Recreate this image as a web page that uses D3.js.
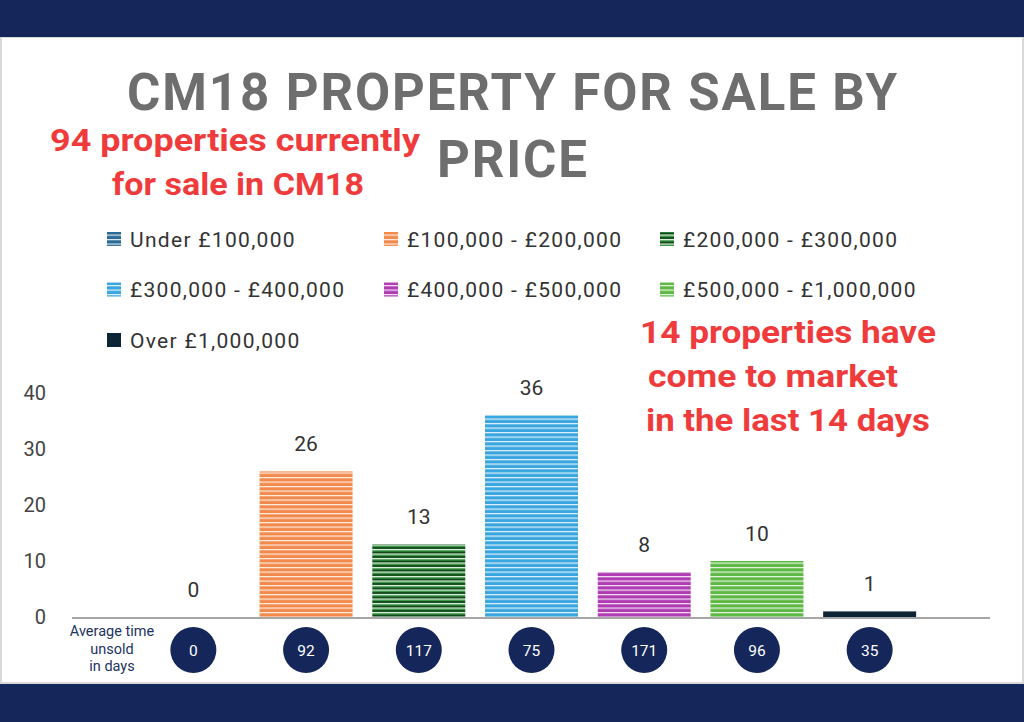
<!DOCTYPE html>
<html lang="en">
<head>
    <meta charset="UTF-8">
    <script src="https://d3js.org/d3.v7.min.js"></script>
    <style>
        body { margin: 0; background: #fff; font-family: Roboto, Arial, sans-serif; }
        svg { display: block; }
    </style>
</head>
<body>
    <div id="chart"></div>
    <script>
        // Data
        const categories = ["Under £100,000", "£100,000 - £200,000", "£200,000 - £300,000",
            "£300,000 - £400,000", "£400,000 - £500,000", "£500,000 - £1,000,000", "Over £1,000,000"];
        const counts = [0, 26, 13, 36, 8, 10, 1];
        const daysUnsold = [0, 92, 117, 75, 171, 96, 35];
        const yTicks = [0, 10, 20, 30, 40];
        const colours = ["#2a6a94", "#f28a4c", "#2f8f3a", "#3aa6df", "#b03cb3", "#5db844", "#0e2536"];
        const titleLines = ["CM18 PROPERTY FOR SALE BY", "PRICE"];
        const leftNote = ["94 properties currently", "for sale in CM18"];
        const rightNote = ["14 properties have", "come to market", "in the last 14 days"];

        const width = 1024, height = 722;
        const navy = "#14265a";

        const svg = d3.select("#chart").append("svg")
            .attr("width", width)
            .attr("height", height);

        // stripe patterns
        const defs = svg.append("defs");
        colours.forEach((c, i) => {
            const p = defs.append("pattern")
                .attr("id", "stripe" + i)
                .attr("patternUnits", "userSpaceOnUse")
                .attr("width", 8).attr("height", 4.5);
            p.append("rect").attr("width", 8).attr("height", 4.5).attr("fill", c);
            if (i === 2) {
                p.append("rect").attr("y", 2.8).attr("width", 8).attr("height", 1.4).attr("fill", "#0c3a14");
            }
            if (i !== 6) {
                p.append("rect").attr("y", 0).attr("width", 8).attr("height", 1.2).attr("fill", "#fff").attr("opacity", 0.85);
            }
        });

        // frame bands
        svg.append("rect").attr("x", 0).attr("y", 0).attr("width", width).attr("height", height).attr("fill", "#fff");
        svg.append("rect").attr("x", 1).attr("y", 37).attr("width", width - 2).attr("height", 646)
            .attr("fill", "none").attr("stroke", "#d8d8d8").attr("stroke-width", 2);
        svg.append("rect").attr("x", 0).attr("y", 0).attr("width", width).attr("height", 37).attr("fill", navy);
        svg.append("rect").attr("x", 0).attr("y", 684).attr("width", width).attr("height", 38).attr("fill", navy);

        // title
        svg.selectAll("text.title")
            .data(titleLines)
            .enter().append("text")
            .attr("class", "title")
            .attr("x", 512)
            .attr("y", (d, i) => 110 + i * 67)
            .attr("text-anchor", "middle")
            .attr("font-size", 51)
            .attr("font-weight", 700)
            .attr("fill", "#6e6e6e")
            .attr("textLength", (d, i) => i === 0 ? 770 : 150)
            .attr("lengthAdjust", "spacing")
            .text(d => d);

        // red notes
        const redNote = (lines, cx, y0, step, lens) => {
            svg.selectAll(null)
                .data(lines)
                .enter().append("text")
                .attr("x", (d, i) => cx[i])
                .attr("y", (d, i) => y0 + i * step)
                .attr("text-anchor", "middle")
                .attr("font-size", 31)
                .attr("font-weight", 700)
                .attr("fill", "#ef3b3b")
                .attr("textLength", (d, i) => lens[i])
                .attr("lengthAdjust", "spacingAndGlyphs")
                .text(d => d);
        };
        redNote(leftNote, [235, 238], 151, 44, [370, 252]);
        redNote(rightNote, [788, 773, 788], 343, 44, [296, 250, 284]);

        // legend
        const legendX = [107, 384, 660];
        const legend = svg.selectAll("g.legend")
            .data(categories)
            .enter().append("g")
            .attr("class", "legend")
            .attr("transform", (d, i) => `translate(${legendX[i % 3]},${239 + Math.floor(i / 3) * 50.5})`);
        legend.append("rect")
            .attr("x", 0).attr("y", -7)
            .attr("width", 14).attr("height", 14)
            .attr("fill", (d, i) => `url(#stripe${i})`);
        legend.append("text")
            .attr("x", 23)
            .attr("y", 7.5)
            .attr("font-size", 21)
            .attr("letter-spacing", 1.3)
            .attr("fill", "#333")
            .text(d => d);

        // scales
        const x = d3.scaleBand()
            .domain(categories)
            .range([137, 926])
            .paddingInner(0.175)
            .paddingOuter(0.0875);

        const y = d3.scaleLinear()
            .domain([0, 40])
            .range([617, 393]);

        // y axis labels
        svg.append("g")
            .attr("transform", "translate(46,0)")
            .call(d3.axisLeft(y).tickValues(yTicks).tickSize(0).tickPadding(0))
            .call(g => g.select(".domain").remove())
            .call(g => g.selectAll("text")
                .attr("font-size", 20)
                .attr("font-family", "Roboto, Arial, sans-serif")
                .attr("fill", "#444"));

        // bars
        svg.selectAll("rect.bar")
            .data(counts)
            .enter().append("rect")
            .attr("class", "bar")
            .attr("x", (d, i) => x(categories[i]))
            .attr("y", d => y(d))
            .attr("width", x.bandwidth())
            .attr("height", d => y(0) - y(d))
            .attr("fill", (d, i) => `url(#stripe${i})`);

        // baseline
        svg.append("line")
            .attr("x1", 72).attr("x2", 990)
            .attr("y1", y(0) + 1).attr("y2", y(0) + 1)
            .attr("stroke", "#a6a6a6").attr("stroke-width", 2);

        // value labels
        svg.selectAll("text.val")
            .data(counts)
            .enter().append("text")
            .attr("class", "val")
            .attr("x", (d, i) => x(categories[i]) + x.bandwidth() / 2)
            .attr("y", d => y(d) - 20)
            .attr("text-anchor", "middle")
            .attr("font-size", 21)
            .attr("fill", "#333")
            .text(d => d);

        // average time unsold
        svg.selectAll("text.avg")
            .data(["Average time", "unsold", "in days"])
            .enter().append("text")
            .attr("class", "avg")
            .attr("x", 112)
            .attr("y", (d, i) => 636 + i * 17.5)
            .attr("text-anchor", "middle")
            .attr("font-size", 14.5)
            .attr("fill", "#22335f")
            .text(d => d);

        const circles = svg.selectAll("g.days")
            .data(daysUnsold)
            .enter().append("g")
            .attr("class", "days")
            .attr("transform", (d, i) => `translate(${x(categories[i]) + x.bandwidth() / 2},650)`);
        circles.append("circle")
            .attr("r", 23)
            .attr("fill", navy);
        circles.append("text")
            .attr("y", 5.5)
            .attr("text-anchor", "middle")
            .attr("font-size", 15.5)
            .attr("fill", "#fff")
            .text(d => d);
    </script>
</body>
</html>
